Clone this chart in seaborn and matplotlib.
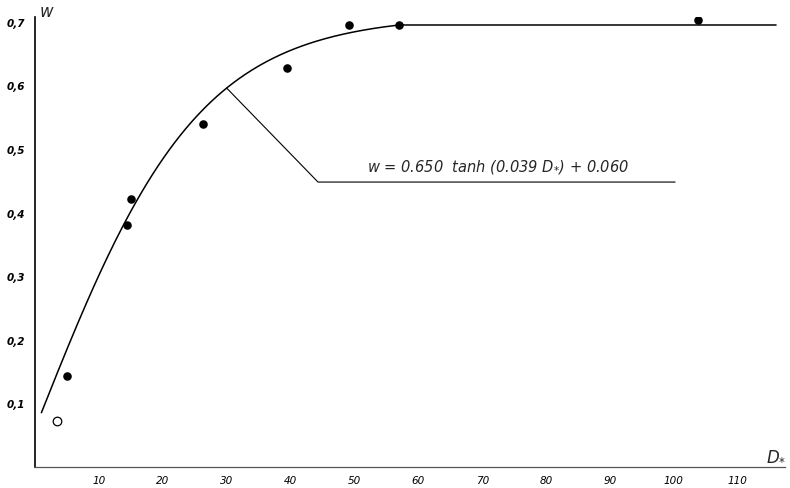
import numpy as np
import pandas as pd
import matplotlib
matplotlib.use("Agg")
import matplotlib.pyplot as plt
import seaborn as sns

# ---- data ----
d_filled = [5.0, 14.4, 15.0, 26.3, 39.4, 49.1, 57.0, 103.8]
w_filled = [0.143, 0.380, 0.421, 0.539, 0.627, 0.695, 0.695, 0.703]
d_open = [3.4]
w_open = [0.072]

# fitted relation printed on the chart: w = A tanh(B D*) + C
A, B, C = 0.650, 0.039, 0.060
d_fit_start, d_fit_end, d_flat_end = 1.0, 57.0, 116.0

x_ticks = [10, 20, 30, 40, 50, 60, 70, 80, 90, 100, 110]
x_tick_labels = ["10", "20", "30", "40", "50", "60", "70", "80", "90", "100", "110"]
y_ticks = [0.1, 0.2, 0.3, 0.4, 0.5, 0.6, 0.7]
y_tick_labels = ["0,1", "0,2", "0,3", "0,4", "0,5", "0,6", "0,7"]
formula_text = "w = 0.650  tanh (0.039 D$_{*}$) + 0.060"

# ---- build curve table ----
d_curve = np.linspace(d_fit_start, d_fit_end, 200)
w_curve = A * np.tanh(B * d_curve) + C
d_curve = np.append(d_curve, d_flat_end)
w_curve = np.append(w_curve, w_curve[-1])
curve_df = pd.DataFrame({"D": d_curve, "w": w_curve})
pts_df = pd.DataFrame({"D": d_filled, "w": w_filled})
open_df = pd.DataFrame({"D": d_open, "w": w_open})

sns.set_style("white")
plt.rcParams["font.family"] = ["DejaVu Sans"]

fig = plt.figure(figsize=(7.9, 4.89), dpi=100)
ax = fig.add_axes([35 / 790, 21 / 489, 750 / 790, 450 / 489])

sns.lineplot(data=curve_df, x="D", y="w", ax=ax, color="black", lw=1.1,
             sort=False, estimator=None)
sns.scatterplot(data=pts_df, x="D", y="w", ax=ax, color="black", s=38,
                edgecolor="black", linewidth=0, zorder=3)
sns.scatterplot(data=open_df, x="D", y="w", ax=ax, facecolor="white", s=38,
                edgecolor="black", linewidth=0.9, zorder=3)

ax.set_xlim(0, 117.4)
ax.set_ylim(0, 0.7075)

ax.set_xticks(x_ticks)
ax.set_xticklabels(x_tick_labels, fontstyle="italic", fontsize=7.5)
ax.set_yticks(y_ticks)
ax.set_yticklabels(y_tick_labels, fontstyle="italic", fontsize=7.5,
                   fontweight="bold")
ax.tick_params(axis="both", direction="in", length=4, width=0.8,
               colors="black", pad=7)
ax.tick_params(axis="x", pad=6)

for s in ["top", "right"]:
    ax.spines[s].set_visible(False)
ax.spines["left"].set_color("black")
ax.spines["left"].set_linewidth(1.2)
ax.spines["bottom"].set_color("#555555")
ax.spines["bottom"].set_linewidth(0.9)

ax.set_xlabel("")
ax.set_ylabel("")

# annotation leader line
d_ann = 30.0
w_ann = A * np.tanh(B * d_ann) + C
ax.plot([d_ann, 44.3, 100.2], [w_ann, 0.448, 0.448], color="black", lw=0.8)
ax.text(72.5, 0.459, formula_text, ha="center", va="bottom",
        fontsize=10.5, fontstyle="italic")

# axis labels placed like the hand-drawn ones
fig.text(46 / 790, 1 - 12 / 489, "w", ha="center", va="center",
         fontsize=12, fontstyle="italic")
fig.text(776 / 790, 1 - 455 / 489, "D$_{*}$", ha="center", va="center",
         fontsize=12, fontstyle="italic")

fig.savefig("out.png", dpi=100)
